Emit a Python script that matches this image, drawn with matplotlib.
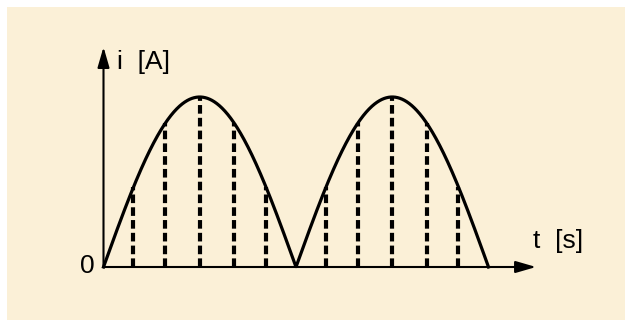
import numpy as np
import matplotlib
matplotlib.use("Agg")
import matplotlib.pyplot as plt
from matplotlib.patches import Rectangle

# Full-wave rectified current: peak value and half period (ms)
peak_current = 1.0
half_period = 10.0
n_humps = 2
# sampling instants inside each half period, as a fraction of it
sample_fracs = [0.155, 0.32, 0.5, 0.68, 0.843]

label_t = "t  [s]"
label_i = "i  [A]"
label_origin = "0"

W, H, DPI = 632, 326, 100
plt.rcParams["font.family"] = ["Liberation Sans", "DejaVu Sans"]
plt.rcParams["lines.scale_dashes"] = False

fig = plt.figure(figsize=(W / DPI, H / DPI), dpi=DPI, facecolor="white")

ax = fig.add_axes([0, 0, 1, 1])
ax.set_facecolor("none")
ax.axis("off")

# parchment panel behind the drawing
ax.add_patch(Rectangle((7 / W, 6 / H), (W - 14) / W, (H - 13) / H,
                       transform=ax.transAxes, facecolor="#FBF0D7",
                       edgecolor="none", zorder=0))

# scale: origin at (103.5, 267) px, half period -> 192.5 px, peak -> 170 px
px_t = 192.5 / half_period
px_i = 170.0 / peak_current
ax.set_xlim(-103.5 / px_t, (W - 103.5) / px_t)
ax.set_ylim(-(H - 267) / px_i, 267 / px_i)

# rectified sine wave
t = np.linspace(0, n_humps * half_period, 1200)
i = peak_current * np.abs(np.sin(np.pi * t / half_period))
ax.plot(t, i, color="black", lw=2.3, solid_joinstyle="round", zorder=3)

# dashed sample ordinates
for k in range(n_humps):
    for f in sample_fracs:
        tk = (k + f) * half_period
        ik = peak_current * abs(np.sin(np.pi * f))
        ax.plot([tk, tk], [0, ik], color="black", lw=3.0,
                linestyle=(0, (6.2, 3.0)), dash_capstyle="butt", zorder=2)

# axes with arrow heads
t_end = 22.47
i_end = 1.294
arrow = dict(arrowstyle="-|>,head_length=0.62,head_width=0.18",
             mutation_scale=20, color="black", lw=1.5,
             shrinkA=0, shrinkB=0)
ax.annotate("", xy=(t_end, 0), xytext=(0, 0), arrowprops=arrow, zorder=4)
ax.annotate("", xy=(0, i_end), xytext=(0, 0), arrowprops=arrow, zorder=4)

fs = 19
ax.text(-0.47, -0.035, label_origin, ha="right", va="baseline", fontsize=fs)
ax.text(0.70, 1.165, label_i, ha="left", va="baseline", fontsize=fs)
ax.text(22.31, 0.112, label_t, ha="left", va="baseline", fontsize=fs)

fig.savefig("out.png", dpi=DPI, facecolor="white")
